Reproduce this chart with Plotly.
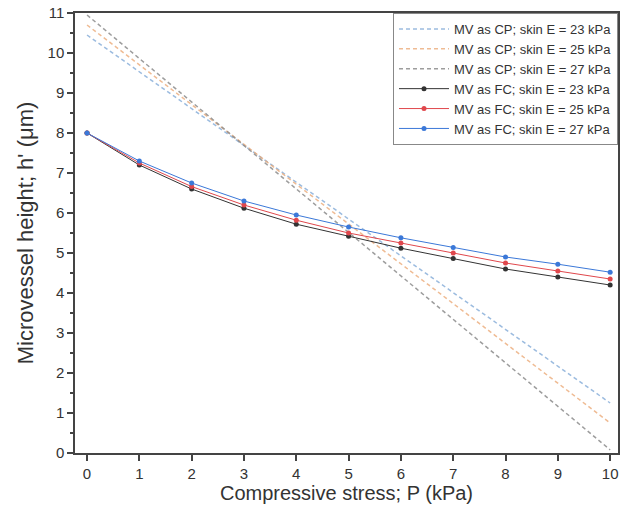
import plotly.graph_objects as go

P = [0, 1, 2, 3, 4, 5, 6, 7, 8, 9, 10]

# MV as CP (linear, dashed)
cp_x = [0, 10]
cp_23 = [10.45, 1.25]
cp_25 = [10.7, 0.75]
cp_27 = [10.95, 0.08]

# MV as FC (solid with markers)
fc_23 = [8.0, 7.2, 6.6, 6.12, 5.72, 5.42, 5.12, 4.86, 4.6, 4.4, 4.2]
fc_25 = [8.0, 7.25, 6.66, 6.2, 5.82, 5.5, 5.25, 5.0, 4.75, 4.55, 4.35]
fc_27 = [8.0, 7.3, 6.75, 6.3, 5.95, 5.65, 5.38, 5.14, 4.9, 4.72, 4.52]

cp_names = ["MV as CP; skin E = 23 kPa", "MV as CP; skin E = 25 kPa", "MV as CP; skin E = 27 kPa"]
fc_names = ["MV as FC; skin E = 23 kPa", "MV as FC; skin E = 25 kPa", "MV as FC; skin E = 27 kPa"]

fig = go.Figure()
cp_colors = ["rgba(130,170,215,0.8)", "rgba(235,170,120,0.8)", "rgba(140,140,140,0.85)"]
for name, ys, c in zip(cp_names, [cp_23, cp_25, cp_27], cp_colors):
    fig.add_trace(go.Scatter(x=cp_x, y=ys, mode="lines", name=name,
                             line=dict(color=c, width=1.5, dash="4px,3px")))

fc_colors = ["#333333", "#e0474c", "#3b78d8"]
for name, ys, c in zip(fc_names, [fc_23, fc_25, fc_27], fc_colors):
    fig.add_trace(go.Scatter(x=P, y=ys, mode="lines+markers", name=name,
                             line=dict(color=c, width=1),
                             marker=dict(color=c, size=5, symbol="circle")))

fig.update_layout(
    width=624, height=524,
    margin=dict(l=75, r=4, t=12, b=71),
    paper_bgcolor="white", plot_bgcolor="white",
    font=dict(family="Liberation Sans, Arial, sans-serif", color="#333333"),
    legend=dict(x=1, y=1, xanchor="right", yanchor="top",
                bordercolor="#888888", borderwidth=1,
                font=dict(size=13, color="#333333"),
                tracegroupgap=0, itemwidth=50, bgcolor="rgba(255,255,255,0.9)"),
)
fig.update_xaxes(
    range=[-0.23, 10.15], tickvals=P, ticks="outside", ticklen=6, tickwidth=1.5,
    showline=True, linecolor="#444444", linewidth=1.5, mirror=True,
    showgrid=False, zeroline=False,
    tickfont=dict(size=15),
    title=dict(text="Compressive stress; P (kPa)", font=dict(size=20), standoff=4),
)
fig.update_yaxes(
    range=[0, 11], dtick=1, ticks="outside", ticklen=6, tickwidth=1.5,
    showline=True, linecolor="#444444", linewidth=1.5, mirror=True,
    showgrid=False, zeroline=False,
    minor=dict(dtick=0.5, ticks="outside", ticklen=3, tickcolor="#444444"),
    tickfont=dict(size=15),
    title=dict(text="Microvessel height; h' (μm)", font=dict(size=22), standoff=8),
)

fig.write_html(
    "out.html",
    config={"displayModeBar": False},
    post_script="document.body.style.margin='0';document.body.style.overflow='hidden';"
                "document.documentElement.style.overflow='hidden';",
)
